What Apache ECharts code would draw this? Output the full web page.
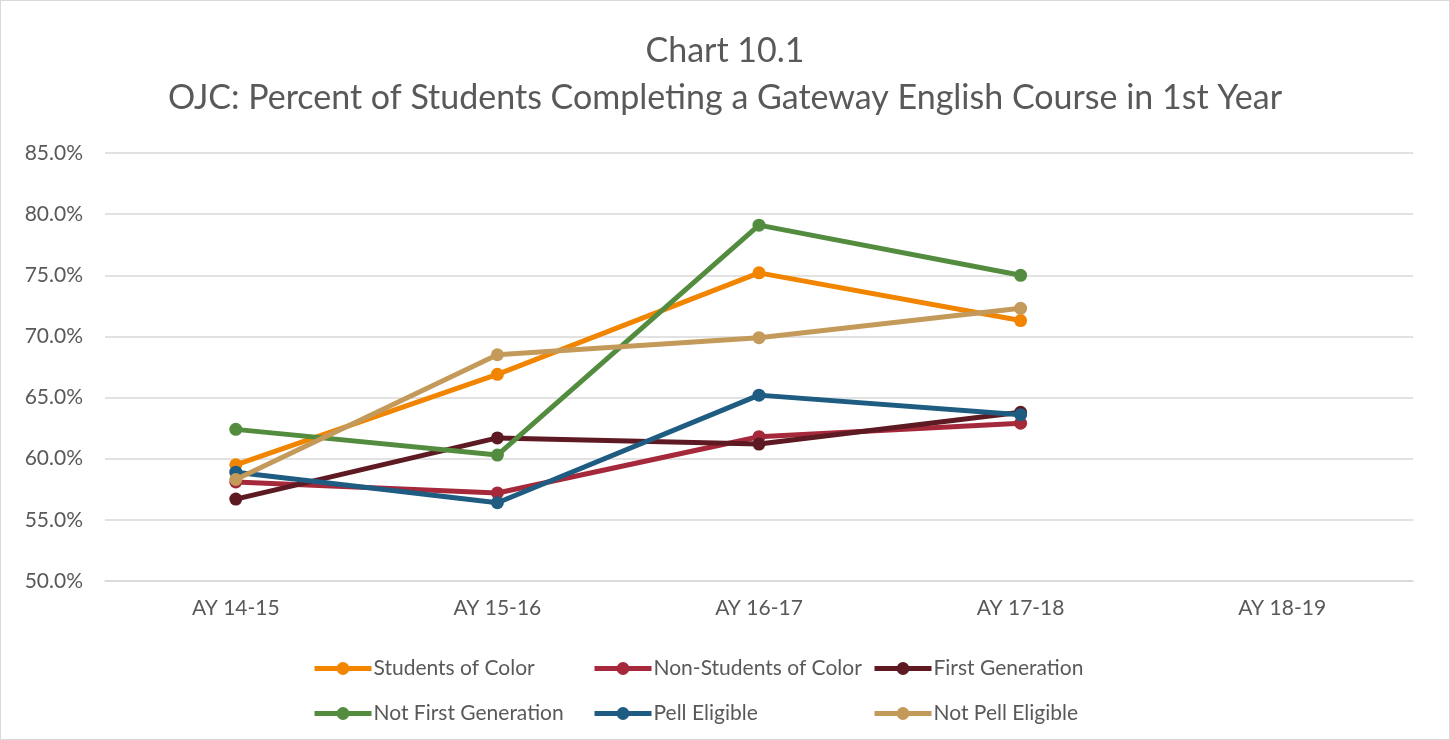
<!DOCTYPE html>
<html>
<head>
<meta charset="utf-8">
<script src="https://cdn.jsdelivr.net/npm/echarts@6/dist/echarts.min.js"></script>
<style>
  html, body { margin: 0; padding: 0; background: #fff; }
  #chart { width: 1450px; height: 740px; box-sizing: border-box; border: 1px solid #d9d9d9; }
</style>
</head>
<body>
<div id="chart"></div>
<script>
// academic years on the x axis
const years = ['AY 14-15', 'AY 15-16', 'AY 16-17', 'AY 17-18', 'AY 18-19'];

// percent completing (no data yet for 18-19)
const studentsOfColor    = [59.5, 66.9, 75.2, 71.3, null];
const nonStudentsOfColor = [58.1, 57.2, 61.8, 62.9, null];
const firstGeneration    = [56.7, 61.7, 61.2, 63.8, null];
const notFirstGeneration = [62.4, 60.3, 79.1, 75.0, null];
const pellEligible       = [58.9, 56.4, 65.2, 63.6, null];
const notPellEligible    = [58.3, 68.5, 69.9, 72.3, null];

const seriesNames = ['Students of Color', 'Non-Students of Color', 'First Generation',
                     'Not First Generation', 'Pell Eligible', 'Not Pell Eligible'];
const seriesData = [studentsOfColor, nonStudentsOfColor, firstGeneration,
                    notFirstGeneration, pellEligible, notPellEligible];
const colors = ['#F28500', '#A5293A', '#5E1A22', '#548C3F', '#1F5C82', '#C49A5A'];

const font = 'Lato, "Noto Sans", sans-serif';

// legend laid out like Excel: 3 columns x 2 rows, one legend per entry
const colLeft = [306, 586, 866];
const rowTop = [652, 697];
const legends = seriesNames.map((name, i) => ({
  left: colLeft[i % 3],
  top: rowTop[Math.floor(i / 3)],
  itemWidth: 57, itemHeight: 16,
  data: [name],
  lineStyle: { width: 5 },
  textStyle: { fontFamily: font, fontSize: 21, color: '#595959', padding: [0, 0, 0, -3] }
}));

const chart = echarts.init(document.getElementById('chart'));
chart.setOption({
  animation: false,
  color: colors,
  title: {
    text: 'Chart 10.1\nOJC: Percent of Students Completing a Gateway English Course in 1st Year',
    left: 'center',
    top: 22,
    textStyle: { fontFamily: font, fontSize: 34, fontWeight: 'normal', color: '#595959', lineHeight: 47 }
  },
  grid: { left: 104, right: 36, top: 152, bottom: 158 },
  xAxis: {
    type: 'category',
    data: years,
    boundaryGap: true,
    axisLine: { lineStyle: { color: '#d9d9d9', width: 1.5 } },
    axisTick: { show: false },
    axisLabel: { fontFamily: font, fontSize: 21, color: '#595959', margin: 17 }
  },
  yAxis: {
    type: 'value',
    min: 50, max: 85, interval: 5,
    axisLine: { show: false },
    axisTick: { show: false },
    splitLine: { lineStyle: { color: '#d9d9d9', width: 1.5 } },
    axisLabel: {
      fontFamily: font, fontSize: 21, color: '#595959', margin: 22,
      formatter: v => v.toFixed(1) + '%'
    }
  },
  legend: legends,
  series: seriesNames.map((name, i) => ({
    name: name,
    type: 'line',
    data: seriesData[i],
    symbol: 'circle',
    symbolSize: 13,
    lineStyle: { width: 5 },
    z: 2 + i
  }))
});
</script>
</body>
</html>
